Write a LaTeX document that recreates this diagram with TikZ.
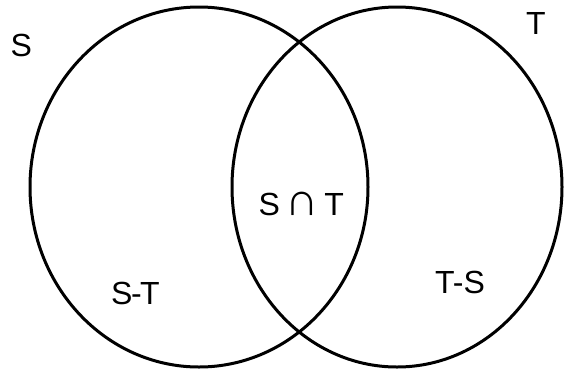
\documentclass[tikz,border=0pt]{standalone}
\usepackage{fontspec}
\setmainfont{Liberation Sans}
\begin{document}
\begin{tikzpicture}[x=1pt,y=-1pt,
  setline/.style={line width=3pt,black},
  lbl/.style={font=\fontsize{32}{36}\selectfont,inner sep=0pt,anchor=base west}]
\useasboundingbox[fill=white] (0,0) rectangle (565,373);
\draw[setline] (199,187) ellipse [x radius=169, y radius=180];
\draw[setline] (397,187) ellipse [x radius=165, y radius=180];
\node[lbl] (s) at (10.5,56.7) {S};
\node[lbl] (t) at (526,34) {T};
\node[lbl] (st) at (258.5,215) {S\hspace{5pt}\scalebox{1.45}[1.45]{∩}\hspace{6pt}T};
\node[lbl] (smt) at (111,304.3) {S\kern-1.5pt-\kern-1.5pt T};
\node[lbl] (tms) at (435,293) {T-S};
\end{tikzpicture}
\end{document}
